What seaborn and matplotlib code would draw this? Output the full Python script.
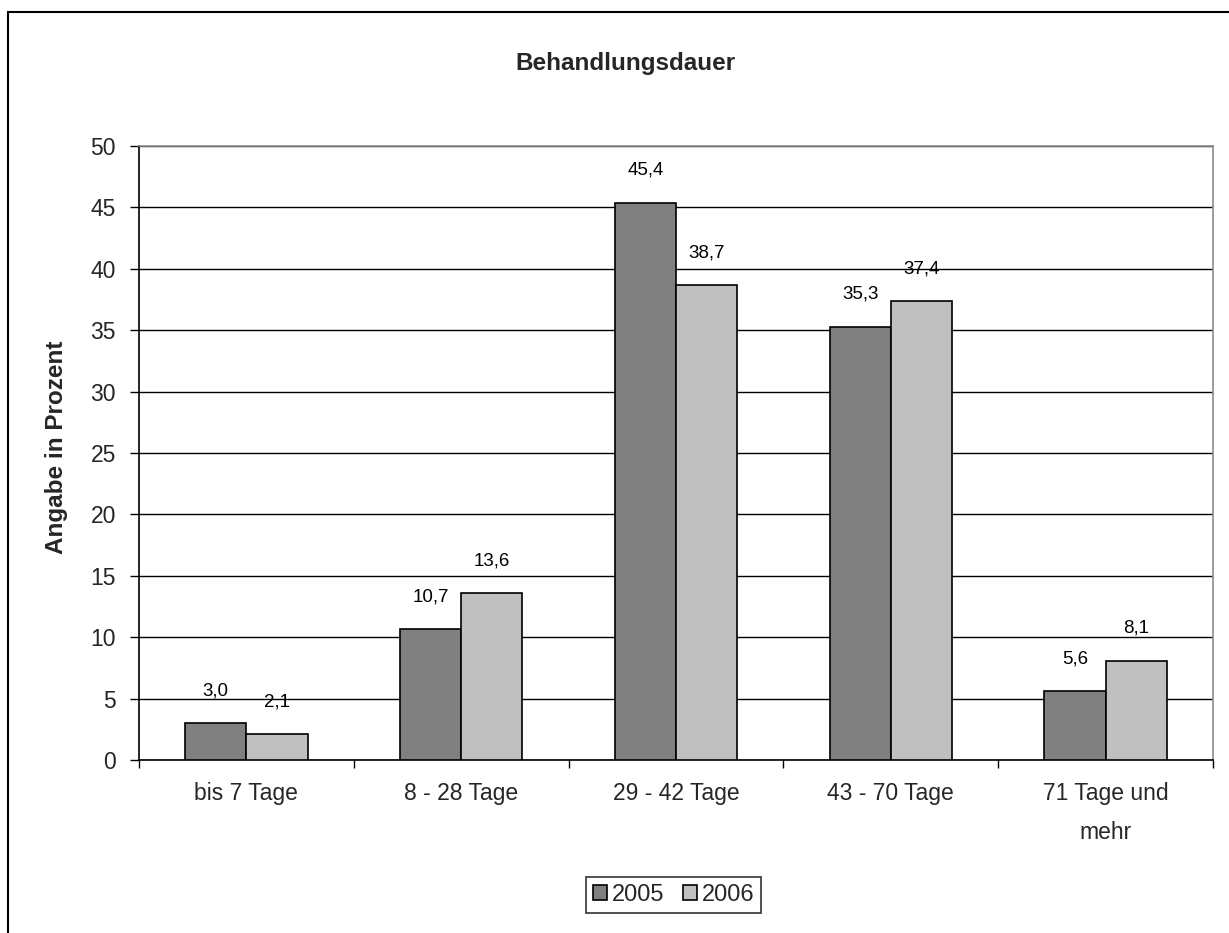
import numpy as np
import pandas as pd
import matplotlib
matplotlib.use("Agg")
import matplotlib.pyplot as plt
import seaborn as sns
from matplotlib.patches import Rectangle

categories = ["bis 7 Tage", "8 - 28 Tage", "29 - 42 Tage", "43 - 70 Tage", "71 Tage und\nmehr"]
years = ["2005", "2006"]
values_2005 = [3.0, 10.7, 45.4, 35.3, 5.6]
values_2006 = [2.1, 13.6, 38.7, 37.4, 8.1]
colors = ["#808080", "#c0c0c0"]

df = pd.DataFrame({
    "Kategorie": categories * 2,
    "Jahr": [years[0]] * 5 + [years[1]] * 5,
    "Wert": values_2005 + values_2006,
})

sns.set_style("white")
plt.rcParams["font.family"] = ["Liberation Sans", "DejaVu Sans"]

fig = plt.figure(figsize=(12.29, 9.33), dpi=100)
ax = fig.add_axes([0.1131, 0.1854, 0.8739, 0.6581])

sns.barplot(data=df, x="Kategorie", y="Wert", hue="Jahr", order=categories,
            hue_order=years, palette=colors, width=0.57, gap=0,
            edgecolor="black", linewidth=1.2, saturation=1, ax=ax, zorder=3)

# Datenbeschriftung mit Dezimalkomma
for cont in ax.containers:
    ax.bar_label(cont, labels=[f"{v:.1f}".replace(".", ",") for v in cont.datavalues],
                 padding=17, fontsize=13.5, color="black")

ax.set_ylim(0, 50)
ax.set_xlim(-0.5, 4.5)
ax.set_yticks(np.arange(0, 51, 5))
ax.yaxis.grid(True, color="black", linewidth=1, zorder=0)
ax.set_axisbelow(True)
ax.tick_params(axis="y", which="major", length=6.5, width=1, color="black",
               labelsize=16.5, pad=10, left=True)
ax.set_xticks(np.arange(len(categories)))
ax.set_xticklabels(categories, fontsize=16.5, linespacing=1.9, va="top")
ax.set_xticks(np.arange(-0.5, 5, 1), minor=True)
ax.tick_params(axis="x", which="major", length=0, pad=16)
ax.tick_params(axis="x", which="minor", length=6, width=1, color="black", bottom=True)
for side in ["left", "bottom"]:
    ax.spines[side].set_color("black")
    ax.spines[side].set_linewidth(1.2)
for side in ["top", "right"]:
    ax.spines[side].set_visible(True)
    ax.spines[side].set_color("#8c8c8c")
    ax.spines[side].set_linewidth(1.2)

ax.set_xlabel("")
ax.set_ylabel("Angabe in Prozent", fontsize=17.5, fontweight="bold")
ax.yaxis.set_label_coords(-0.066, 0.51)
fig.text(0.509, 0.932, "Behandlungsdauer", ha="center", va="center",
         fontsize=17.5, fontweight="bold")

handles, labels = ax.get_legend_handles_labels()
ax.get_legend().remove()
leg = fig.legend(handles, labels, loc="center", bbox_to_anchor=(0.548, 0.041),
                 ncol=2, frameon=True, fancybox=False, edgecolor="black",
                 fontsize=17, handlelength=0.6, handleheight=0.6,
                 handletextpad=0.2, columnspacing=0.8, borderpad=0.3)
leg.get_frame().set_linewidth(1.2)

fig.patches.append(Rectangle((8 / 1229, -0.1), 1.2, 1.1 - 12 / 933, transform=fig.transFigure,
                             fill=False, edgecolor="black", linewidth=1.5))

fig.savefig("out.png", dpi=100)
